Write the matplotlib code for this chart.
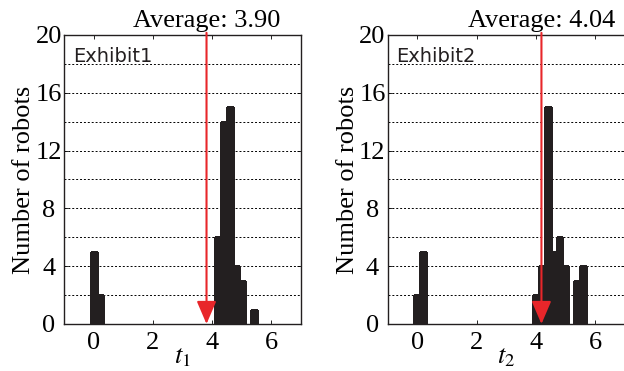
import matplotlib
matplotlib.use("Agg")
import matplotlib.pyplot as plt
from matplotlib.ticker import MultipleLocator
from matplotlib.transforms import blended_transform_factory

# histogram bins (centres, width 0.2) and robot counts
bins1 = [0.0, 0.2, 4.2, 4.4, 4.6, 4.8, 5.0, 5.4]
counts1 = [5, 2, 6, 14, 15, 4, 3, 1]
bins2 = [0.0, 0.2, 4.0, 4.2, 4.4, 4.6, 4.8, 5.0, 5.4, 5.6]
counts2 = [2, 5, 2, 4, 15, 5, 6, 4, 3, 4]

averages = [3.90, 4.04]
arrow_x = [3.81, 4.19]        # where the arrows sit in the original drawing
exhibits = ["Exhibit1", "Exhibit2"]
xlabels = ["$t_1$", "$t_2$"]

BAR = "#231f20"
RED = "#e8262a"

plt.rcParams["font.family"] = "Liberation Serif"
plt.rcParams["mathtext.fontset"] = "stix"

fig = plt.figure(figsize=(6.24, 3.71), dpi=100)
ax1 = fig.add_axes([0.1026, 0.1267, 0.3798, 0.779])
ax2 = fig.add_axes([0.6213, 0.1267, 0.3798, 0.779])

for ax, bins, counts, avg, ax_x, name, xl in zip(
        (ax1, ax2), (bins1, bins2), (counts1, counts2),
        averages, arrow_x, exhibits, xlabels):
    ax.bar(bins, counts, width=0.2, color=BAR, edgecolor=BAR,
           linewidth=1.0, antialiased=False, zorder=2)
    ax.set_xlim(-1, 7)
    ax.set_ylim(0, 20)
    ax.xaxis.set_major_locator(MultipleLocator(2))
    ax.yaxis.set_major_locator(MultipleLocator(4))
    ax.yaxis.set_minor_locator(MultipleLocator(2))
    ax.grid(axis="y", which="both", color="black", linestyle=(0, (2, 2)),
            linewidth=0.7, zorder=1)
    ax.tick_params(which="both", direction="in", top=True, right=True,
                   length=3, width=0.6, labelsize=19)
    ax.tick_params(axis="y", which="minor", length=0)
    ax.tick_params(axis="y", pad=11)
    ax.tick_params(axis="x", pad=6)
    for lab in ax.get_yticklabels():
        lab.set_horizontalalignment("center")
    for sp in ax.spines.values():
        sp.set_linewidth(1.0)
        sp.set_color("#231f20")

    ax.set_ylabel("Number of robots", fontsize=19, labelpad=0)
    ax.set_xlabel(xl, fontsize=19, labelpad=-6)

    ax.text(0.037, 0.908, name, transform=ax.transAxes, fontsize=14,
            family="DejaVu Sans", color="#231f20", va="baseline", ha="left")

    trans = blended_transform_factory(ax.transData, ax.transAxes)
    ax.text(ax_x, 1.028, f"Average: {avg:.2f}", transform=trans,
            fontsize=19, ha="center", va="baseline")
    ax.annotate("", xy=(ax_x, 0), xytext=(ax_x, 20.15),
                xycoords="data", textcoords="data", annotation_clip=False,
                arrowprops=dict(arrowstyle="-|>,head_length=0.7,head_width=0.3",
                                mutation_scale=20, color=RED, lw=1.5,
                                shrinkA=0, shrinkB=0), zorder=5)

fig.savefig("out.png", dpi=100)
